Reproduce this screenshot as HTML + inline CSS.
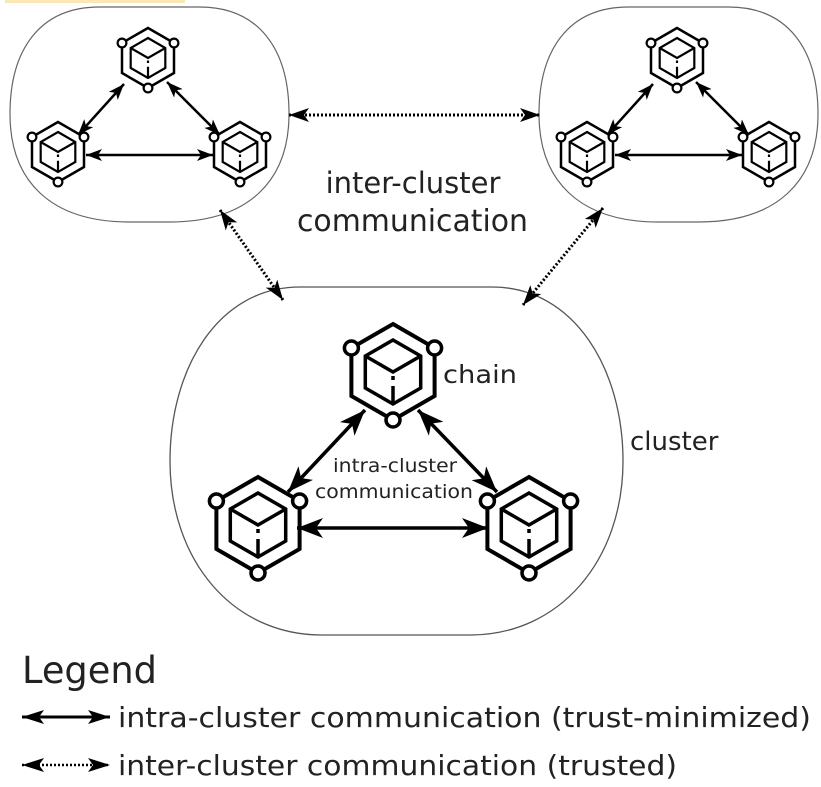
<!DOCTYPE html>
<html><head><meta charset="utf-8"><style>
html,body{margin:0;padding:0;background:#fff;}
svg{display:block;}
text{font-family:"DejaVu Sans","Liberation Sans",sans-serif;fill:#222;}
</style></head><body>
<svg width="821" height="787" viewBox="0 0 821 787" xmlns="http://www.w3.org/2000/svg">
<defs>
<marker id="mb" markerUnits="userSpaceOnUse" markerWidth="26" markerHeight="20" refX="26" refY="10" orient="auto-start-reverse"><path d="M0,0 L26,10 L0,20 L7,10 Z" fill="#000"/></marker>
<marker id="ms" markerUnits="userSpaceOnUse" markerWidth="16" markerHeight="12" refX="16" refY="6" orient="auto-start-reverse"><path d="M0,0 L16,6 L0,12 L4,6 Z" fill="#000"/></marker>
<marker id="md" markerUnits="userSpaceOnUse" markerWidth="20" markerHeight="14" refX="20" refY="7" orient="auto-start-reverse"><path d="M0,0 L20,7 L0,14 L5,7 Z" fill="#000"/></marker>
<marker id="ml" markerUnits="userSpaceOnUse" markerWidth="22" markerHeight="14" refX="22" refY="7" orient="auto-start-reverse"><path d="M0,0 L22,7 L0,14 L5,7 Z" fill="#000"/></marker>
<g id="ic">
<polygon points="0,-48 41.6,-24 41.6,24 0,48 -41.6,24 -41.6,-24" fill="#fff" stroke="#000" stroke-width="4" stroke-linejoin="miter"/>
<polygon points="0,-32 27.7,-16 27.7,16 0,32 -27.7,16 -27.7,-16" fill="none" stroke="#000" stroke-width="3.5"/>
<path d="M-27.7,-16 L0,0 L27.7,-16" fill="none" stroke="#000" stroke-width="3.5"/>
<path d="M0,4 V8 M0,14 V32" stroke="#000" stroke-width="3.5"/>
<circle cx="-41.6" cy="-24" r="7" fill="#fff" stroke="#000" stroke-width="3.5"/>
<circle cx="41.6" cy="-24" r="7" fill="#fff" stroke="#000" stroke-width="3.5"/>
<circle cx="0" cy="48" r="7" fill="#fff" stroke="#000" stroke-width="3.5"/>
</g>
<g id="cl">
<path d="M99.5,7 H199.5 C259.5,7 289,50 289,114 C289,180 249.5,222 169.5,222 H129.5 C49.5,222 10,180 10,114 C10,50 39.5,7 99.5,7 Z" fill="none" stroke="#666" stroke-width="1.2"/>
<use href="#ic" transform="translate(148,58) scale(0.625)"/>
<use href="#ic" transform="translate(58,152) scale(0.625)"/>
<use href="#ic" transform="translate(240,152) scale(0.625)"/>
<line x1="124" y1="84" x2="78" y2="135" stroke="#000" stroke-width="2.5" marker-start="url(#ms)" marker-end="url(#ms)"/>
<line x1="167" y1="82" x2="220" y2="135" stroke="#000" stroke-width="2.5" marker-start="url(#ms)" marker-end="url(#ms)"/>
<line x1="86" y1="155" x2="213" y2="155" stroke="#000" stroke-width="2.5" marker-start="url(#ms)" marker-end="url(#ms)"/>
</g>
</defs>
<rect x="5" y="0" width="180" height="3" fill="#fbe6b5"/>
<use href="#cl"/>
<use href="#cl" transform="translate(529,0)"/>
<path d="M300,287 H492 C575,287 623,370 623,461 C623,560 560,635 470,635 H322 C232,635 170,560 170,461 C170,370 217,287 300,287 Z" fill="none" stroke="#555" stroke-width="1.3"/>
<use href="#ic" transform="translate(393,372)"/>
<use href="#ic" transform="translate(258,525)"/>
<use href="#ic" transform="translate(529,525)"/>
<line x1="365" y1="410" x2="288" y2="492" stroke="#000" stroke-width="3.5" marker-start="url(#mb)" marker-end="url(#mb)"/>
<line x1="418" y1="410" x2="497" y2="492" stroke="#000" stroke-width="3.5" marker-start="url(#mb)" marker-end="url(#mb)"/>
<line x1="297" y1="528" x2="488" y2="528" stroke="#000" stroke-width="3.5" marker-start="url(#mb)" marker-end="url(#mb)"/>
<line x1="289" y1="115" x2="540" y2="115" stroke="#000" stroke-width="3" stroke-dasharray="2,2" marker-start="url(#md)" marker-end="url(#md)"/>
<line x1="220" y1="210" x2="283" y2="300" stroke="#000" stroke-width="3" stroke-dasharray="2,2" marker-start="url(#md)" marker-end="url(#md)"/>
<line x1="603" y1="208" x2="523" y2="305" stroke="#000" stroke-width="3" stroke-dasharray="2,2" marker-start="url(#md)" marker-end="url(#md)"/>
<text x="413" y="193" font-size="29" text-anchor="middle">inter-cluster</text>
<text x="297" y="231" font-size="30" textLength="231" lengthAdjust="spacingAndGlyphs">communication</text>
<text x="443" y="383" font-size="25" textLength="74" lengthAdjust="spacingAndGlyphs">chain</text>
<text x="630" y="450" font-size="26">cluster</text>
<text x="333" y="472" font-size="19" textLength="124" lengthAdjust="spacingAndGlyphs">intra-cluster</text>
<text x="315" y="498" font-size="19" textLength="158" lengthAdjust="spacingAndGlyphs">communication</text>
<text x="22" y="683" font-size="37" textLength="135" lengthAdjust="spacingAndGlyphs">Legend</text>
<line x1="22" y1="717" x2="110" y2="717" stroke="#000" stroke-width="3" marker-start="url(#ml)" marker-end="url(#ml)"/>
<line x1="22" y1="765" x2="110" y2="765" stroke="#000" stroke-width="2.5" stroke-dasharray="2,2" marker-start="url(#ml)" marker-end="url(#ml)"/>
<text x="118" y="727" font-size="28" textLength="693" lengthAdjust="spacingAndGlyphs">intra-cluster communication (trust-minimized)</text>
<text x="118" y="775" font-size="28" textLength="559" lengthAdjust="spacingAndGlyphs">inter-cluster communication (trusted)</text>
</svg>
</body></html>
